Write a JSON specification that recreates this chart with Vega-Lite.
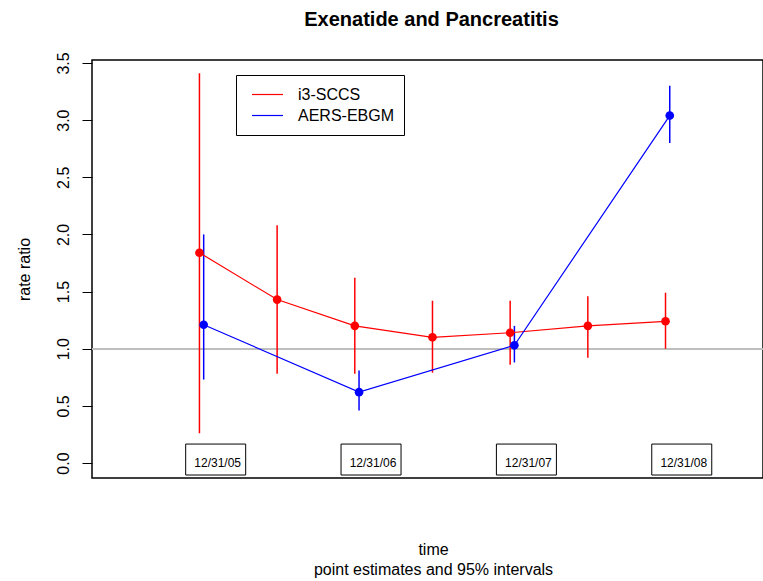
{
  "$schema": "https://vega.github.io/schema/vega-lite/v6.json",
  "width": 671,
  "height": 418,
  "autosize": {"type": "none"},
  "padding": {"left": 92, "top": 60, "right": 0, "bottom": 103},
  "background": "white",
  "title": {"text": "Exenatide and Pancreatitis", "font": "Liberation Sans", "fontSize": 20, "fontWeight": "bold", "color": "black", "anchor": "middle", "frame": "group", "offset": 22, "dx": 4},
  "config": {
    "view": {"stroke": "black", "strokeWidth": 1.5},
    "font": "Liberation Sans"
  },
  "datasets": {
    "pts": [
      {"series": "i3-SCCS", "t": 2005.9727, "rr": 1.84, "lo": 0.26, "hi": 3.41},
      {"series": "i3-SCCS", "t": 2006.4727, "rr": 1.43, "lo": 0.78, "hi": 2.08},
      {"series": "i3-SCCS", "t": 2006.9727, "rr": 1.20, "lo": 0.78, "hi": 1.62},
      {"series": "i3-SCCS", "t": 2007.4727, "rr": 1.10, "lo": 0.79, "hi": 1.42},
      {"series": "i3-SCCS", "t": 2007.9727, "rr": 1.14, "lo": 0.86, "hi": 1.42},
      {"series": "i3-SCCS", "t": 2008.4727, "rr": 1.20, "lo": 0.92, "hi": 1.46},
      {"series": "i3-SCCS", "t": 2008.9727, "rr": 1.24, "lo": 1.00, "hi": 1.49},
      {"series": "AERS-EBGM", "t": 2006, "rr": 1.21, "lo": 0.73, "hi": 2.00},
      {"series": "AERS-EBGM", "t": 2007, "rr": 0.62, "lo": 0.46, "hi": 0.81},
      {"series": "AERS-EBGM", "t": 2008, "rr": 1.03, "lo": 0.88, "hi": 1.20},
      {"series": "AERS-EBGM", "t": 2009, "rr": 3.04, "lo": 2.80, "hi": 3.30}
    ],
    "labels": [
      {"t": 2006, "label": "12/31/05"},
      {"t": 2007, "label": "12/31/06"},
      {"t": 2008, "label": "12/31/07"},
      {"t": 2009, "label": "12/31/08"}
    ]
  },
  "layer": [
    {
      "data": {"name": "pts"},
      "mark": {"type": "rule", "color": "#BEBEBE", "strokeWidth": 1.5},
      "encoding": {
        "y": {"datum": 1, "type": "quantitative", "scale": {"domain": [-0.131, 3.526], "nice": false, "zero": false},
          "axis": {"orient": "left", "values": [0, 0.5, 1, 1.5, 2, 2.5, 3, 3.5], "format": ".1f", "grid": false, "domain": false,
            "tickColor": "black", "tickSize": 10, "tickWidth": 1, "labelAngle": -90, "labelAlign": "center", "labelBaseline": "alphabetic",
            "labelPadding": 14, "labelFontSize": 16, "labelColor": "black", "labelFont": "Liberation Sans",
            "title": "rate ratio", "titleFontSize": 16, "titleFontWeight": "normal", "titleColor": "black", "titleFont": "Liberation Sans",
            "titleBaseline": "alphabetic", "titleX": -63, "titleY": 209, "titleAngle": -90, "titleAlign": "center"}}
      }
    },
    {
      "data": {"name": "pts"},
      "mark": {"type": "rule", "strokeWidth": 1.5},
      "encoding": {
        "x": {"field": "t", "type": "quantitative", "scale": {"domain": [2005.3133, 2009.568], "nice": false, "zero": false},
          "axis": {"orient": "bottom", "labels": false, "ticks": false, "domain": false, "grid": false,
            "title": ["time", "point estimates and 95% intervals"], "titleFontSize": 16, "titleFontWeight": "normal", "titleColor": "black",
            "titleFont": "Liberation Sans", "titleLineHeight": 20, "titleBaseline": "alphabetic", "titleAlign": "center", "titleX": 341, "titleY": 76}},
        "y": {"field": "lo", "type": "quantitative", "scale": {"domain": [-0.131, 3.526], "nice": false, "zero": false}},
        "y2": {"field": "hi"},
        "color": {"field": "series", "type": "nominal", "scale": {"domain": ["i3-SCCS", "AERS-EBGM"], "range": ["#FF0000", "#0000FF"]}}
      }
    },
    {
      "data": {"name": "pts"},
      "mark": {"type": "line", "strokeWidth": 1.2},
      "encoding": {
        "x": {"field": "t", "type": "quantitative", "scale": {"domain": [2005.3133, 2009.568], "nice": false, "zero": false}},
        "y": {"field": "rr", "type": "quantitative", "scale": {"domain": [-0.131, 3.526], "nice": false, "zero": false}},
        "color": {"field": "series", "type": "nominal", "scale": {"domain": ["i3-SCCS", "AERS-EBGM"], "range": ["#FF0000", "#0000FF"]},
          "legend": {"orient": "none", "legendX": 144, "legendY": 15, "title": null, "symbolType": "stroke", "symbolSize": 961, "symbolStrokeWidth": 1.2,
            "labelFontSize": 16, "labelFont": "Liberation Sans", "labelColor": "black", "labelOffset": 14, "symbolOffset": 6, "padding": 9,
            "strokeColor": "black", "fillColor": "white", "clipHeight": 21, "rowPadding": 0}}
      }
    },
    {
      "data": {"name": "pts"},
      "mark": {"type": "point", "filled": true, "shape": "circle", "size": 75, "opacity": 1},
      "encoding": {
        "x": {"field": "t", "type": "quantitative", "scale": {"domain": [2005.3133, 2009.568], "nice": false, "zero": false}},
        "y": {"field": "rr", "type": "quantitative", "scale": {"domain": [-0.131, 3.526], "nice": false, "zero": false}},
        "color": {"field": "series", "type": "nominal", "scale": {"domain": ["i3-SCCS", "AERS-EBGM"], "range": ["#FF0000", "#0000FF"]}}
      }
    },
    {
      "data": {"name": "labels"},
      "mark": {"type": "bar", "width": 60, "xOffset": 12, "fill": "white", "stroke": "black", "strokeWidth": 1},
      "encoding": {
        "x": {"field": "t", "type": "quantitative", "scale": {"domain": [2005.3133, 2009.568], "nice": false, "zero": false}},
        "y": {"datum": 0.166, "type": "quantitative", "scale": {"domain": [-0.131, 3.526], "nice": false, "zero": false}},
        "y2": {"datum": -0.105}
      }
    },
    {
      "data": {"name": "labels"},
      "mark": {"type": "text", "fontSize": 12, "font": "Liberation Sans", "color": "black", "dx": 14, "align": "center", "baseline": "middle"},
      "encoding": {
        "x": {"field": "t", "type": "quantitative", "scale": {"domain": [2005.3133, 2009.568], "nice": false, "zero": false}},
        "y": {"datum": 0, "type": "quantitative", "scale": {"domain": [-0.131, 3.526], "nice": false, "zero": false}},
        "text": {"field": "label"}
      }
    }
  ]
}
